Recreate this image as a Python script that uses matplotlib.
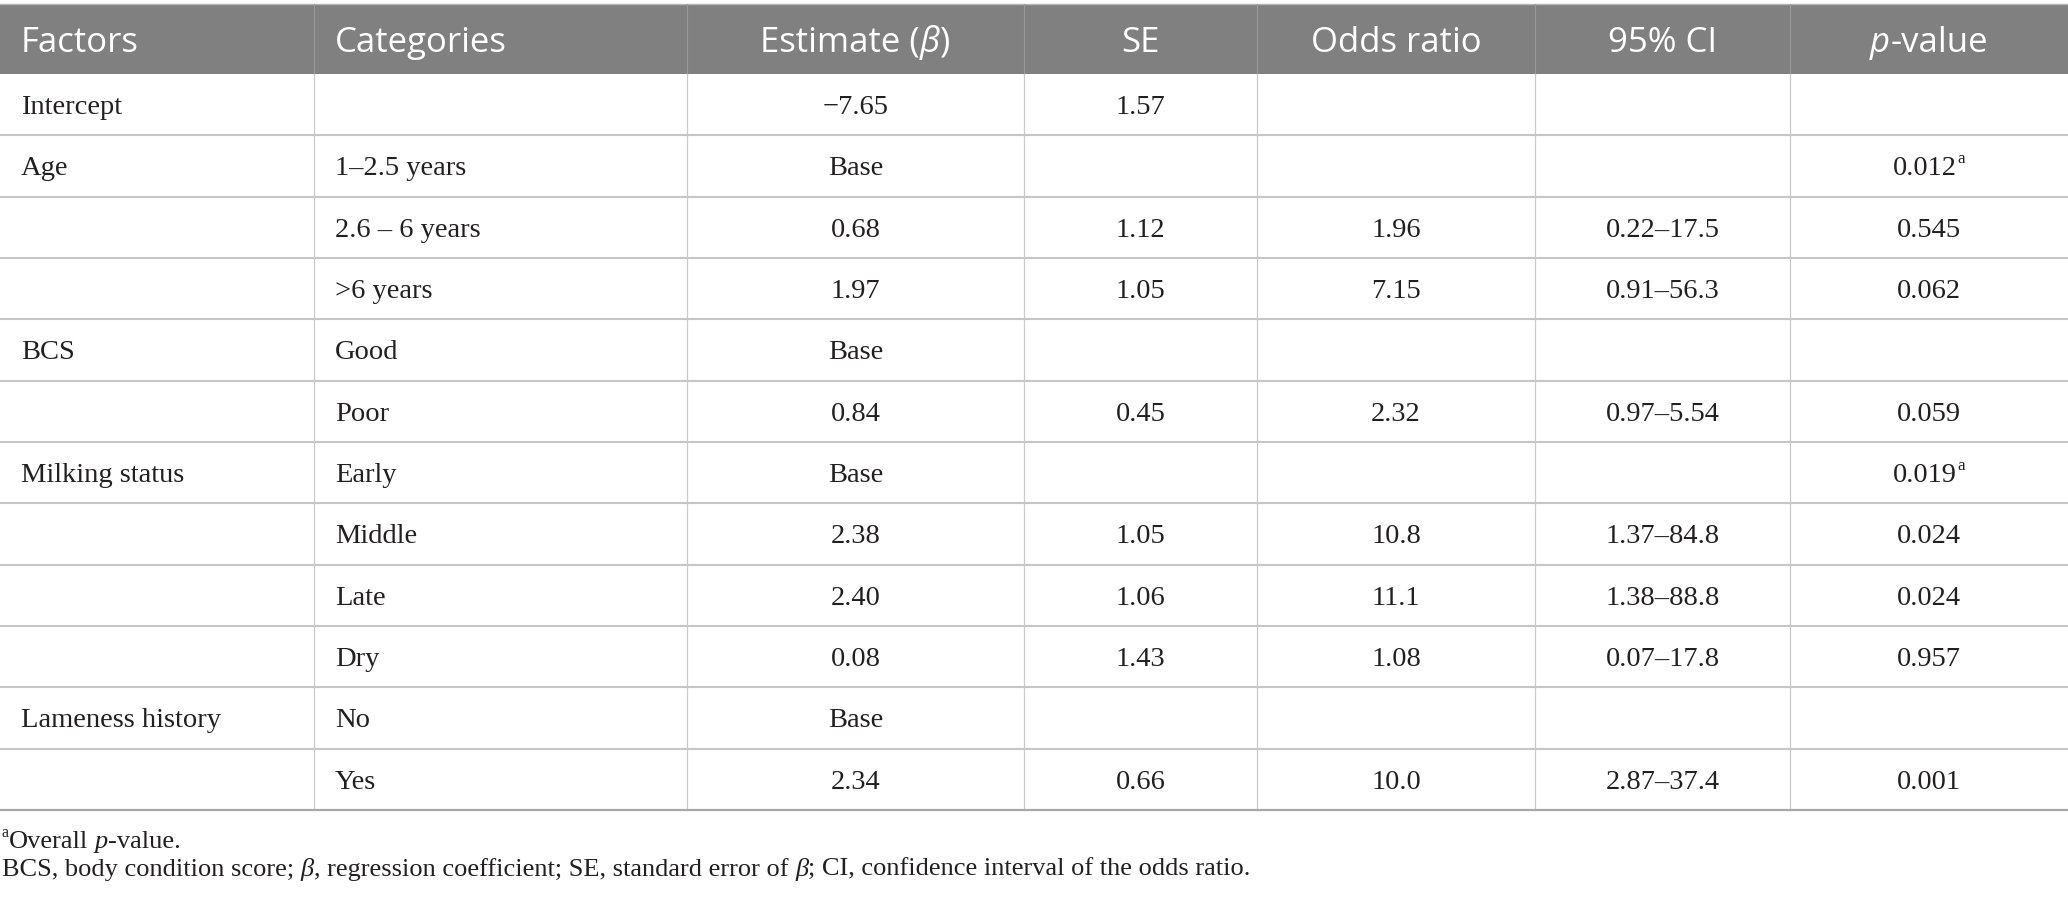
import matplotlib.pyplot as plt
from matplotlib.patches import Rectangle

# table content
headers = ["Factors", "Categories", "Estimate (β)", "SE", "Odds ratio", "95% CI", "p-value"]
factors = ["Intercept", "Age", "", "", "BCS", "", "Milking status", "", "", "",
           "Lameness history", ""]
categories = ["", "1–2.5 years", "2.6 – 6 years", ">6 years", "Good", "Poor",
              "Early", "Middle", "Late", "Dry", "No", "Yes"]
estimate = ["−7.65", "Base", "0.68", "1.97", "Base", "0.84", "Base", "2.38",
            "2.40", "0.08", "Base", "2.34"]
se = ["1.57", "", "1.12", "1.05", "", "0.45", "", "1.05", "1.06", "1.43", "", "0.66"]
odds_ratio = ["", "", "1.96", "7.15", "", "2.32", "", "10.8", "11.1", "1.08", "", "10.0"]
ci95 = ["", "", "0.22–17.5", "0.91–56.3", "", "0.97–5.54", "", "1.37–84.8",
        "1.38–88.8", "0.07–17.8", "", "2.87–37.4"]
p_value = ["", "0.012", "0.545", "0.062", "", "0.059", "0.019", "0.024", "0.024",
           "0.957", "", "0.001"]
overall_p = [False, True, False, False, False, False, True, False, False, False,
             False, False]

W, H, DPI = 2068, 900, 100
col_edges = [0, 314, 687, 1024, 1257, 1535, 1790, 2068]
head_top, head_bot = 4, 74
row_h = 61.33
pad = 21

HEAD_FONT = "Open Sans"
BODY_FONT = "Liberation Serif"
HEAD_FS = 25
BODY_FS = 20.5
NOTE_FS = 19

fig = plt.figure(figsize=(W / DPI, H / DPI), dpi=DPI)
ax = fig.add_axes([0, 0, 1, 1])
ax.set_xlim(0, W)
ax.set_ylim(H, 0)
ax.axis("off")
renderer = fig.canvas.get_renderer()


def text_width(s, **kw):
    t = ax.text(0, 0, s, **kw)
    w = t.get_window_extent(renderer).width
    t.remove()
    return w


def put(x, y, parts, ha="left", size=BODY_FS, family=BODY_FONT, color="#231f20"):
    # parts: (string, style) with style 'n', 'i' or 'sup'; y is the baseline
    base = dict(family=family, color=color, va="baseline")
    space = text_width("x x", fontsize=size, **base) - text_width("xx", fontsize=size, **base)
    items = []
    for s, st in parts:
        kw = dict(base, fontsize=size)
        if st == "i":
            kw["style"] = "italic"
        if st == "sup":
            kw["fontsize"] = size * 0.6
        lead = len(s) - len(s.lstrip(" "))
        trail = len(s) - len(s.rstrip(" "))
        core = s.strip(" ")
        t = ax.text(0, y, core, **kw)
        w = t.get_window_extent(renderer).width if core else 0
        items.append((t, st, lead * space, w, trail * space))
    total = sum(a + b + c for _, _, a, b, c in items)
    cur = x - total / 2 if ha == "center" else x
    for t, st, lead, w, trail in items:
        cur += lead
        yy = y - size * 0.42 * DPI / 72 if st == "sup" else y
        t.set_position((cur, yy))
        cur += w + trail


# header band
ax.add_patch(Rectangle((0, head_top), W, head_bot - head_top, color="#808080", lw=0))
ax.plot([0, W], [head_top, head_top], color="#b4b4b4", lw=1)
head_base = (head_top + head_bot) / 2 + 0.36 * HEAD_FS * DPI / 72
for j, h in enumerate(headers):
    if j < 2:
        x, ha = col_edges[j] + pad, "left"
    else:
        x, ha = (col_edges[j] + col_edges[j + 1]) / 2, "center"
    if h == "Estimate (β)":
        parts = [("Estimate (", "n"), ("β", "i"), (")", "n")]
    elif h == "p-value":
        parts = [("p", "i"), ("-value", "n")]
    else:
        parts = [(h, "n")]
    put(x, head_base, parts, ha=ha, size=HEAD_FS, family=HEAD_FONT, color="white")

for j in range(1, len(col_edges) - 1):
    ax.plot([col_edges[j]] * 2, [head_top, head_bot], color="#9a9a9a", lw=0.8)

# body rows
n_rows = len(factors)
columns = [factors, categories, estimate, se, odds_ratio, ci95, p_value]
for i in range(n_rows):
    top = head_bot + i * row_h
    bot = top + row_h
    base = (top + bot) / 2 + 0.33 * BODY_FS * DPI / 72
    for j, col in enumerate(columns):
        s = col[i]
        if not s:
            continue
        if j < 2:
            x, ha = col_edges[j] + pad, "left"
        else:
            x, ha = (col_edges[j] + col_edges[j + 1]) / 2, "center"
        parts = [(s, "n")]
        if j == 6 and overall_p[i]:
            parts.append(("a", "sup"))
        put(x, base, parts, ha=ha)
    if i < n_rows - 1:
        ax.plot([0, W], [bot, bot], color="#c6c6c6", lw=1.5)

table_bot = head_bot + n_rows * row_h
for j in range(1, len(col_edges) - 1):
    ax.plot([col_edges[j]] * 2, [head_bot, table_bot], color="#cacaca", lw=0.9)
ax.plot([0, W], [table_bot, table_bot], color="#a8a8a8", lw=1.6)

# footnotes
put(2, 848, [("a", "sup"), ("Overall ", "n"), ("p", "i"), ("-value.", "n")],
    size=NOTE_FS)
put(2, 876, [("BCS, body condition score; ", "n"), ("β", "i"),
             (", regression coefficient; SE, standard error of ", "n"), ("β", "i"),
             ("; CI, confidence interval of the odds ratio.", "n")], size=NOTE_FS)

fig.savefig("out.png", dpi=DPI)
